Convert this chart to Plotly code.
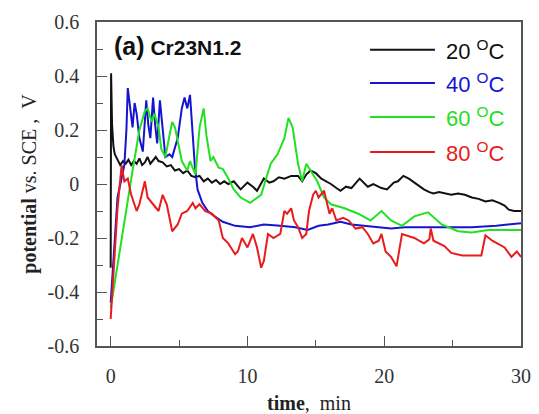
import plotly.graph_objects as go

# 20 C (black)
t_20 = [0, 0.03, 0.1, 0.2, 0.3, 0.5, 0.7, 0.9, 1.1, 1.3,
        1.5, 1.7, 1.9, 2.1, 2.3, 2.5, 2.7, 2.9, 3.1, 3.3,
        3.5, 3.8, 4.1, 4.4, 4.7, 5.0, 5.3, 5.6, 5.9, 6.2,
        6.5, 6.8, 7.1, 7.4, 7.7, 8.0, 8.3, 8.6, 9.0, 9.5,
        10.0, 10.4, 10.7, 11.2, 11.6, 11.9, 12.3, 12.7, 13.2, 13.7,
        14.0, 14.3, 14.6, 15.0, 15.4, 15.8, 16.1, 16.5, 16.8, 17.2,
        17.6, 18.2, 18.5, 18.8, 19.2, 19.8, 20.2, 20.7, 21.0, 21.4,
        21.8, 22.2, 22.6, 22.9, 23.3, 23.6, 24.0, 24.4, 24.9, 25.4,
        25.9, 26.4, 26.9, 27.4, 27.9, 28.4, 28.8, 29.1, 29.5, 30]
v_20 = [-0.31, 0.41, 0.22, 0.14, 0.11, 0.09, 0.07, 0.085, 0.075, 0.09,
        0.07, 0.085, 0.075, 0.095, 0.07, 0.08, 0.1, 0.075, 0.09, 0.1,
        0.085, 0.08, 0.065, 0.07, 0.05, 0.055, 0.04, 0.05, 0.03, 0.025,
        0.03, 0.01, 0.02, 0.005, 0.015, 0.0, 0.01, 0.0, 0.01, -0.02,
        0.005, -0.01, -0.025, 0.02, 0.005, 0.01, 0.025, 0.02, 0.03, 0.03,
        0.01, 0.035, 0.05, 0.04, 0.02, 0.01, 0.0, -0.015, -0.025, -0.01,
        -0.015, 0.02, 0.005, -0.01, 0.0, -0.015, -0.02, 0.005, 0.01, 0.03,
        0.02, 0.005, -0.01, -0.02, -0.03, -0.035, -0.03, -0.035, -0.04, -0.035,
        -0.04, -0.05, -0.055, -0.065, -0.06, -0.07, -0.08, -0.095, -0.1, -0.1]

# 40 C (blue)
t_40 = [0, 0.5, 1.0, 1.15, 1.25, 1.4, 1.6, 1.75, 1.9, 2.1,
        2.35, 2.6, 2.75, 2.9, 3.1, 3.25, 3.4, 3.6, 3.8, 4.0,
        4.3, 4.5, 4.9, 5.2, 5.4, 5.6, 5.8, 6.0, 6.15, 6.35,
        6.7, 7.1, 7.6, 8.2, 9.1, 10.2, 11.2, 12.4, 13.5, 14.4,
        15.2, 15.9, 16.8, 17.6, 18.5, 19.8, 20.5, 21.5, 24.0, 26.4,
        28.2, 30]
v_40 = [-0.44, -0.05, 0.07, 0.2, 0.355, 0.3, 0.21, 0.3, 0.26, 0.17,
        0.12, 0.31, 0.22, 0.17, 0.32, 0.22, 0.15, 0.31, 0.21, 0.1,
        0.11, 0.1, 0.17, 0.28, 0.32, 0.28, 0.33, 0.2, 0.07, -0.02,
        -0.07, -0.1, -0.12, -0.14, -0.155, -0.16, -0.15, -0.155, -0.16, -0.17,
        -0.155, -0.15, -0.14, -0.15, -0.155, -0.16, -0.165, -0.16, -0.16, -0.16,
        -0.155, -0.145]

# 60 C (green)
t_60 = [0, 0.8, 1.6, 2.1, 2.5, 2.7, 3.0, 3.2, 3.5,
        3.7, 4.0, 4.3, 4.5, 4.7, 5.0, 5.2, 5.6, 5.8, 6.2,
        6.5, 6.8, 7.0, 7.3, 7.5, 7.9, 8.2, 8.6, 9.0, 9.5,
        10.2, 11.0, 11.7, 12.2, 12.7, 13.0, 13.3, 13.7, 14.0, 14.3,
        14.6, 15.1, 15.6, 16.1, 17.1, 18.1, 19.0, 19.8, 20.5, 21.3,
        22.2, 23.2, 24.2, 25.4, 26.4, 27.6, 30]
v_60 = [-0.46, -0.2, 0.05, 0.2, 0.27, 0.28, 0.23, 0.26, 0.21,
        0.13, 0.1, 0.18, 0.23, 0.21, 0.14, 0.085, 0.05, 0.085, 0.035,
        0.21, 0.28, 0.18, 0.085, 0.1, 0.06, 0.055, 0.02, -0.02, -0.05,
        -0.07, -0.04, 0.075, 0.11, 0.17, 0.245, 0.21, 0.075, 0.01, 0.075,
        0.05, 0.01, -0.05, -0.075, -0.09, -0.11, -0.135, -0.1, -0.135, -0.155,
        -0.12, -0.105, -0.15, -0.175, -0.18, -0.17, -0.17]

# 80 C (red)
t_80 = [0, 0.5, 0.8, 1.0, 1.25, 1.5, 1.9, 2.1, 2.5, 2.7,
        3.1, 3.5, 3.8, 4.1, 4.5, 4.9, 5.2, 5.6, 6.0, 6.2,
        6.5, 6.9, 7.4, 7.9, 8.2, 8.6, 9.1, 9.3, 9.6, 10.0,
        10.4, 10.7, 11.0, 11.2, 11.5, 11.9, 12.4, 12.7, 12.9, 13.2,
        13.4, 13.7, 14.0, 14.3, 14.5, 14.8, 15.0, 15.2, 15.6, 16.0,
        16.2, 16.5, 17.0, 17.4, 17.9, 18.4, 18.8, 19.2, 19.6, 19.8,
        20.1, 20.5, 20.9, 21.1, 21.3, 22.2, 22.9, 23.3, 23.4, 23.6,
        24.4, 24.9, 25.7, 27.1, 27.4, 27.9, 28.8, 29.3, 29.7, 30]
v_80 = [-0.5, -0.09, 0.07, 0.01, 0.02, -0.04, -0.1, -0.075, 0.01, -0.05,
        -0.075, -0.1, -0.04, -0.075, -0.175, -0.15, -0.11, -0.1, -0.07, -0.09,
        -0.075, -0.1, -0.11, -0.135, -0.2, -0.22, -0.26, -0.25, -0.2, -0.235,
        -0.185, -0.235, -0.31, -0.285, -0.185, -0.2, -0.185, -0.1, -0.11, -0.09,
        -0.135, -0.16, -0.2, -0.185, -0.1, -0.04, -0.025, -0.05, -0.025, -0.11,
        -0.09, -0.135, -0.125, -0.135, -0.165, -0.16, -0.185, -0.22, -0.21, -0.185,
        -0.25, -0.27, -0.305, -0.25, -0.185, -0.2, -0.22, -0.205, -0.165, -0.21,
        -0.23, -0.255, -0.265, -0.265, -0.19, -0.21, -0.235, -0.27, -0.25, -0.27]

labels = ['20', '40', '60', '80']
colors = ['#111111', '#1515d0', '#22e022', '#e81c1c']
series = [(t_20, v_20), (t_40, v_40), (t_60, v_60), (t_80, v_80)]

fig = go.Figure()
for (t, v), c, lab in zip(series, colors, labels):
    fig.add_trace(go.Scatter(x=t, y=v, mode='lines', line=dict(color=c, width=2), name=lab + ' C'))

# hand made legend (long line samples as in the original)
leg_y = [0.914, 0.812, 0.707, 0.599]
for lab, c, yy in zip(labels, colors, leg_y):
    fig.add_shape(type='line', xref='paper', yref='paper', x0=0.644, x1=0.797, y0=yy, y1=yy,
                  line=dict(color=c, width=2))
    fig.add_annotation(xref='paper', yref='paper', x=0.818, y=yy, xanchor='left', yanchor='middle',
                       text=lab + ' <sup>O</sup>C', showarrow=False,
                       font=dict(family='Liberation Sans', size=22, color=c))

fig.add_annotation(xref='paper', yref='paper', x=0.035, y=0.925, xanchor='left', yanchor='middle',
                   text='<b><span style="font-size:25px">(a)</span> Cr23N1.2</b>', showarrow=False,
                   font=dict(family='Liberation Sans', size=21, color='#111111'))

axis_common = dict(
    showline=True, linecolor='#555555', linewidth=1.5, mirror=True,
    ticks='inside', ticklen=10, tickwidth=1.2, tickcolor='#555555',
    showgrid=False, zeroline=False, automargin=False,
    tickfont=dict(family='Liberation Serif', size=20, color='#333333'),
)

# the page body adds 8px around the figure, so the figure is 8px smaller
fig.update_layout(
    width=531, height=406,
    margin=dict(l=89, r=18, t=14, b=68),
    paper_bgcolor='white', plot_bgcolor='white',
    showlegend=False,
    xaxis=dict(range=[-1, 30], tickvals=[0, 10, 20, 30], ticklabelstandoff=11,
               minor=dict(dtick=5, tick0=0, ticks='inside', ticklen=6, tickcolor='#555555'),
               title=dict(text='<b>time</b>, &nbsp;min', standoff=12,
                          font=dict(family='Liberation Serif', size=20, color='#222222')),
               **axis_common),
    yaxis=dict(range=[-0.6, 0.6], tickvals=[-0.6, -0.4, -0.2, 0, 0.2, 0.4, 0.6],
               ticktext=['-0.6', '-0.4', '-0.2', '0', '0.2', '0.4', '0.6'], ticklabelstandoff=12,
               minor=dict(dtick=0.1, tick0=0, ticks='inside', ticklen=6, tickcolor='#555555'),
               title=dict(text='<b>potential</b> vs. SCE , &nbsp;V', standoff=6,
                          font=dict(family='Liberation Serif', size=20, color='#222222')),
               **axis_common),
)

fig.write_html("out.html")
